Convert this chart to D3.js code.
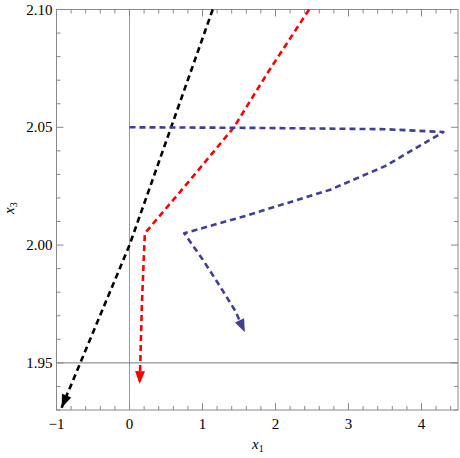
<!DOCTYPE html>
<html><head><meta charset="utf-8">
<script src="https://cdn.jsdelivr.net/npm/d3@7"></script>
<style>body{margin:0;background:#fff}text{font-family:"Liberation Serif","Times New Roman","DejaVu Serif",serif}</style>
</head><body><svg id="c" width="460" height="458"></svg>
<script>
// trajectories, [x1, x3]
var blackPath = [[1.14, 2.10], [0, 2.0], [-0.93, 1.931]];
var redPath = [[2.46, 2.10], [1.9, 2.0735], [1.43, 2.05], [0.8, 2.0265], [0.21, 2.005], [0.17, 1.975], [0.14, 1.941]];
var bluePath = [[0, 2.05], [1.5, 2.0498], [3.5, 2.0492], [4.3, 2.048], [3.5, 2.0335], [2.75, 2.0235], [1.6, 2.0125], [0.75, 2.005], [1.0, 1.994], [1.25, 1.982], [1.45, 1.972], [1.58, 1.963]];
var xTicks = [-1, 0, 1, 2, 3, 4];
var yTicks = [1.95, 2.00, 2.05, 2.10];

var svg = d3.select("#c"),
    L = 56.5, R = 458, T = 9.5, B = 410;
var x = d3.scaleLinear().domain([-1, 4.5]).range([L, L + 73 * 5.5]);
var y = d3.scaleLinear().domain([1.93, 2.10]).range([B, T]);

// gridlines through 0 and 1.95
svg.append("line").attr("x1", x(0)).attr("x2", x(0)).attr("y1", T).attr("y2", B).attr("stroke", "#999");
svg.append("line").attr("x1", L).attr("x2", R).attr("y1", y(1.95)).attr("y2", y(1.95)).attr("stroke", "#777");

var minorX = d3.range(-1, 4.51, 0.2), minorY = d3.range(1.93, 2.1001, 0.01);
var g = svg.append("g").attr("stroke", "#888");
minorX.forEach(function(v) {
  var len = xTicks.some(function(t) { return Math.abs(t - v) < 1e-6; }) ? 7 : 4;
  g.append("line").attr("x1", x(v)).attr("x2", x(v)).attr("y1", B).attr("y2", B - len);
  g.append("line").attr("x1", x(v)).attr("x2", x(v)).attr("y1", T).attr("y2", T + len);
});
minorY.forEach(function(v) {
  var len = yTicks.some(function(t) { return Math.abs(t - v) < 1e-6; }) ? 7 : 4;
  g.append("line").attr("x1", L).attr("x2", L + len).attr("y1", y(v)).attr("y2", y(v));
  g.append("line").attr("x1", R).attr("x2", R - len).attr("y1", y(v)).attr("y2", y(v));
});
svg.append("rect").attr("x", L).attr("y", T).attr("width", R - L).attr("height", B - T)
  .attr("fill", "none").attr("stroke", "#888");

xTicks.forEach(function(t) {
  svg.append("text").attr("x", x(t)).attr("y", B + 19).attr("text-anchor", "middle")
    .attr("font-size", 15).text(t < 0 ? "\u2212" + (-t) : t);
});
yTicks.forEach(function(t) {
  svg.append("text").attr("x", L - 4).attr("y", y(t) + 5).attr("text-anchor", "end")
    .attr("font-size", 15).text(t.toFixed(2));
});
svg.append("text").attr("x", 252).attr("y", 449).attr("font-size", 15).attr("font-style", "italic")
  .html('x<tspan font-size="10" font-style="normal" dy="3">1</tspan>');
svg.append("text").attr("transform", "translate(14,214) rotate(-90)").attr("font-size", 15).attr("font-style", "italic")
  .html('x<tspan font-size="10" font-style="normal" dy="3">3</tspan>');

var line = d3.line().x(function(d) { return x(d[0]); }).y(function(d) { return y(d[1]); });
function draw(pts, col) {
  svg.append("path").attr("d", line(pts)).attr("fill", "none").attr("stroke", col)
    .attr("stroke-width", 2.6).attr("stroke-dasharray", "6,4").attr("stroke-linejoin", "round");
  var a = pts[pts.length - 1], b = pts[pts.length - 2];
  var ax = x(a[0]), ay = y(a[1]), ang = Math.atan2(ay - y(b[1]), ax - x(b[0]));
  svg.append("path").attr("d", "M0,0L-13,-5L-13,5Z").attr("fill", col)
    .attr("transform", "translate(" + ax + "," + ay + ") rotate(" + ang * 180 / Math.PI + ")");
}
draw(blackPath, "#000");
draw(redPath, "#f00");
draw(bluePath, "#3f3f96");
</script></body></html>
